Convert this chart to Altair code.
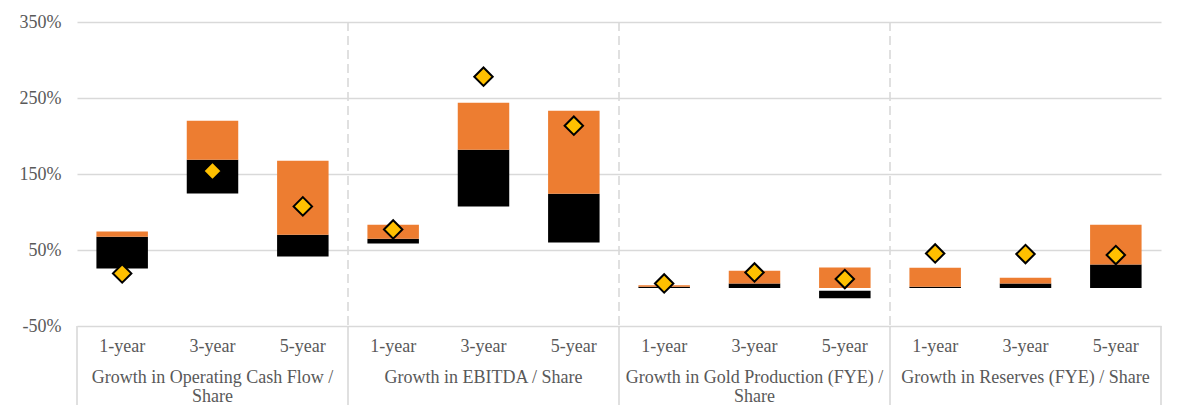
import altair as alt
import pandas as pd

groups = [
    "Growth in Operating Cash Flow / Share",
    "Growth in EBITDA / Share",
    "Growth in Gold Production (FYE) / Share",
    "Growth in Reserves (FYE) / Share",
]
group_labels = [
    "Growth in Operating Cash Flow /\nShare",
    "Growth in EBITDA / Share",
    "Growth in Gold Production (FYE) /\nShare",
    "Growth in Reserves (FYE) / Share",
]
periods = ["1-year", "3-year", "5-year"]

black_low = [25.8, 124.5, 41.6, 58.7, 107.4, 60.0, 0.0, 0.0, -13.6, 0.0, 0.0, 0.0]
black_high = [67.5, 168.8, 70.0, 64.9, 182.0, 124.0, 1.5, 6.0, -3.5, 1.7, 6.0, 31.0]
orange_low = [67.5, 168.8, 70.0, 64.9, 182.0, 124.0, 1.5, 6.0, 0.0, 1.7, 6.0, 31.0]
orange_high = [74.5, 220.0, 167.5, 83.3, 243.8, 233.3, 3.5, 22.8, 27.1, 26.7, 13.5, 83.3]
marker = [19.2, 154.0, 107.4, 77.0, 278.0, 213.5, 6.0, 20.5, 11.8, 45.5, 44.7, 43.4]

y_ticks = [-50, 50, 150, 250, 350]

W, H = 1084, 304
FONT = "Liberation Serif"
TXT = "#595959"
GRID = "#d9d9d9"

keys, rows = [], []
i = 0
for g in groups:
    for p in periods:
        k = g + "|" + p
        keys.append(k)
        rows.append(dict(key=k, group=g, period=p,
                         bl=black_low[i], bh=black_high[i],
                         ol=orange_low[i], oh=orange_high[i], m=marker[i]))
        i += 1
df = pd.DataFrame(rows)

glab = pd.DataFrame({"key": [g + "|" + periods[1] for g in groups], "label": group_labels})

n = len(keys)
per = len(periods)
bounds = pd.DataFrame({"b": [j * per for j in range(len(groups) + 1)]})
inner = bounds[(bounds.b > 0) & (bounds.b < n)]

xband = alt.X("key:N", sort=keys, axis=None,
              scale=alt.Scale(paddingInner=0.43, paddingOuter=0.215))
yscale = alt.Scale(domain=[-50, 350], nice=False, zero=False)

base = alt.Chart(df)

black = base.mark_bar(color="#000000").encode(
    x=xband,
    y=alt.Y("bl:Q", scale=yscale, title=None,
            axis=alt.Axis(values=y_ticks, labelExpr="datum.value + '%'",
                          grid=True, gridColor=GRID, gridWidth=1.6,
                          domain=False, ticks=False, labelPadding=16,
                          labelFont=FONT, labelFontSize=18, labelColor=TXT)),
    y2="bh:Q",
)
orange = base.mark_bar(color="#ED7D31").encode(
    x=xband, y=alt.Y("ol:Q", scale=yscale), y2="oh:Q"
)
diam = base.mark_point(shape="diamond", filled=True, color="#FFC000",
                       stroke="#000000", strokeWidth=2, size=340, opacity=1).encode(
    x=xband, y=alt.Y("m:Q", scale=yscale)
)
plab = base.mark_text(font=FONT, fontSize=18, color=TXT, baseline="alphabetic").encode(
    x=xband, y=alt.value(H + 26), text="period:N"
)
gtext = alt.Chart(glab).mark_text(font=FONT, fontSize=18, color=TXT, baseline="alphabetic",
                                  lineBreak="\n", lineHeight=19).encode(
    x=xband, y=alt.value(H + 57), text="label:N"
)

xq = alt.X("b:Q", scale=alt.Scale(domain=[0, n], nice=False, zero=False), axis=None)
dashed = alt.Chart(inner).mark_rule(color=GRID, strokeWidth=1.6, strokeDash=[9, 5]).encode(
    x=xq, y=alt.value(0), y2=alt.value(H)
)
solid = alt.Chart(bounds).mark_rule(color=GRID, strokeWidth=1.6).encode(
    x=xq, y=alt.value(H), y2=alt.value(H + 79)
)

bars = alt.layer(black, orange, diam, plab, gtext)
chart = alt.layer(dashed, solid, bars).resolve_scale(x="independent").properties(
    width=W, height=H,
    padding={"left": 69, "top": 14, "right": 15, "bottom": 83},
    autosize=alt.AutoSizeParams(type="none"),
).configure_view(stroke=None)

chart.save("out.html", embed_options={"renderer": "svg", "actions": False})
